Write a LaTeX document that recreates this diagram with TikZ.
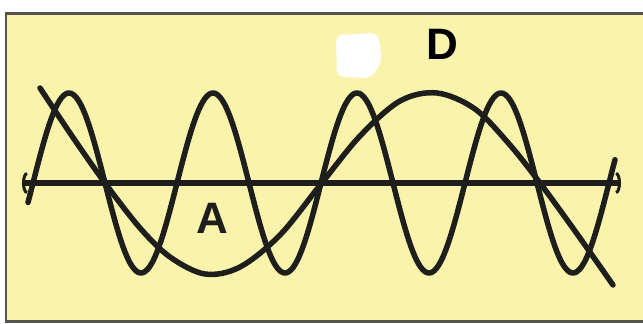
\documentclass[tikz,border=0pt]{standalone}
\usepackage{fontspec}
\setmainfont{Liberation Sans}
\usetikzlibrary{arrows.meta}
\definecolor{paper}{RGB}{250,243,172}
\definecolor{ink}{RGB}{30,30,28}
\definecolor{frame}{RGB}{85,85,80}
\tikzset{
  wave/.style={draw=ink, line width=5.5pt, line join=round, line cap=round},
  axisline/.style={draw=ink, line width=6pt, {Arc Barb[length=5pt,width=22pt,line width=3pt]}-{Arc Barb[length=5pt,width=22pt,line width=3pt]}},
  lbl/.style={font=\bfseries\fontsize{44}{44}\selectfont, inner sep=0pt}
}
\begin{document}
\begin{tikzpicture}[x=1pt,y=-1pt]
\useasboundingbox (0,0) rectangle (643,324);
\fill[white] (0,0) rectangle (643,324);
\fill[paper] (5,12) rectangle (643,322);
\draw[frame, line width=3pt] (5,13) -- (643,13);
\draw[frame, line width=2pt] (5.5,12) -- (5.5,322);
\draw[frame, line width=3pt] (5,321) -- (643,321);
% white blob
\fill[white, rounded corners=7pt] (336,35) -- (378,33) -- (382,60) -- (372,78) -- (337,77) -- cycle;
% axis
\coordinate (axL) at (22,183);
\coordinate (axR) at (621,183);
\draw[axisline] (axL) -- (axR);
% short wave
\draw[wave] plot[domain=28:615, samples=300, smooth] (\x, {183 - 90*sin(2.5*(\x-33))});
% long wave
\draw[wave] plot[smooth, tension=0.55] coordinates {(40,88) (72,136) (105,183) (140,228) (170,257) (205,274) (240,267) (280,235) (321,184) (360,136) (400,101) (437,93) (475,109) (510,145) (540,183) (575,231) (613,285)};
% labels
\node[lbl, text=ink] (A) at (212,218) {A};
\node[lbl, text=black] (D) at (442,44) {D};
\end{tikzpicture}
\end{document}
